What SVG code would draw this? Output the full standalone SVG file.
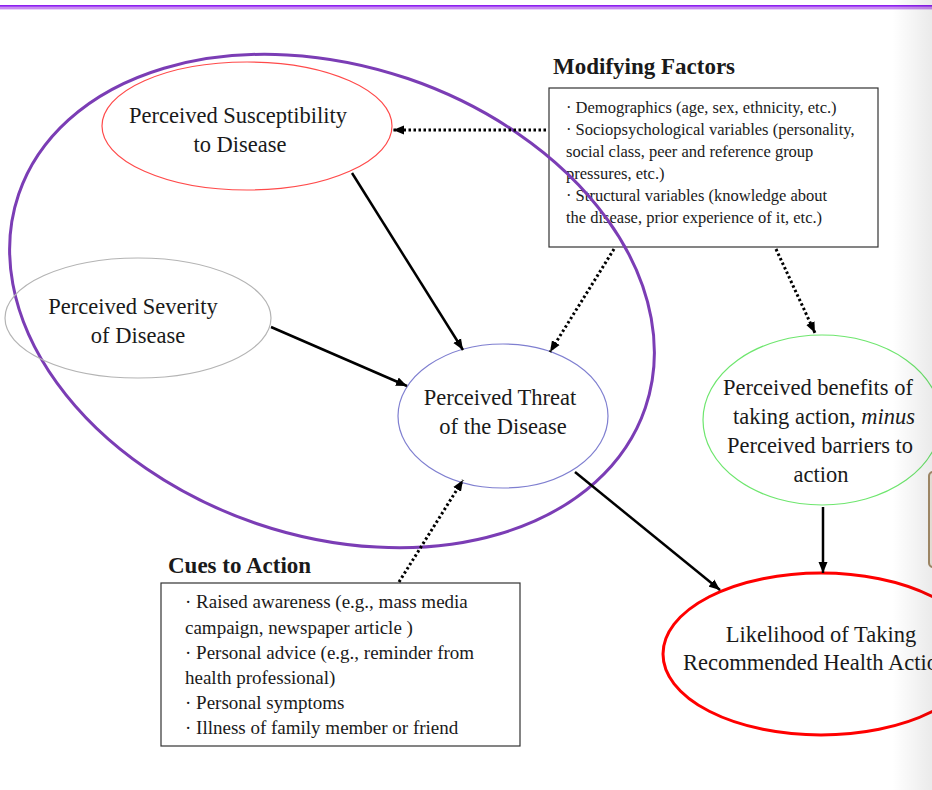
<svg xmlns="http://www.w3.org/2000/svg" width="932" height="790" viewBox="0 0 932 790">
  <style>
    .lbl { font-family: "Liberation Serif", "Times New Roman", serif; fill: #1a1a1a; }
    .node { font-size: 22.5px; }
    .title { font-size: 23px; font-weight: bold; }
    .mf { font-size: 16.5px; }
    .cue { font-size: 19px; }
    .solid { fill: none; stroke: #000; stroke-width: 2.5; }
    .dots { fill: none; stroke: #000; stroke-width: 3; stroke-dasharray: 2.5 2.5; }
    .box { fill: #fff; stroke: #333; stroke-width: 1.2; }
  </style>
  <defs>
    <marker id="head" markerUnits="userSpaceOnUse" markerWidth="12" markerHeight="10" refX="11" refY="5" orient="auto">
      <path d="M0,0.5 L11,5 L0,9.5 z" fill="#000"/>
    </marker>
    <linearGradient id="edgeShade" x1="0" y1="0" x2="1" y2="0">
      <stop offset="0" stop-color="#000" stop-opacity="0"/>
      <stop offset="1" stop-color="#000" stop-opacity="0.08"/>
    </linearGradient>
  </defs>

  <rect width="932" height="790" fill="#fff"/>

  <!-- header rule -->
  <rect x="0" y="5" width="932" height="1.8" fill="#8d1ff0"/>
  <rect x="0" y="7" width="932" height="2.4" fill="#c98cf0"/>

  <g id="modifying-factors">
    <text class="lbl title" x="553" y="74">Modifying Factors</text>
    <rect class="box" x="549" y="88" width="329" height="159"/>
    <text class="lbl mf" x="566" y="113">· Demographics (age, sex, ethnicity, etc.)</text>
    <text class="lbl mf" x="566" y="135">· Sociopsychological variables (personality,</text>
    <text class="lbl mf" x="566" y="157">social class, peer and reference group</text>
    <text class="lbl mf" x="566" y="179">pressures, etc.)</text>
    <text class="lbl mf" x="566" y="201">· Structural variables (knowledge about</text>
    <text class="lbl mf" x="566" y="223">the disease, prior experience of it, etc.)</text>
  </g>

  <g id="cues-to-action">
    <text class="lbl title" x="168" y="573">Cues to Action</text>
    <rect class="box" x="161" y="583" width="359" height="163"/>
    <text class="lbl cue" x="185" y="608">· Raised awareness (e.g., mass media</text>
    <text class="lbl cue" x="185" y="634">campaign, newspaper article )</text>
    <text class="lbl cue" x="185" y="659">· Personal advice (e.g., reminder from</text>
    <text class="lbl cue" x="185" y="684">health professional)</text>
    <text class="lbl cue" x="185" y="709">· Personal symptoms</text>
    <text class="lbl cue" x="185" y="734">· Illness of family member or friend</text>
  </g>

  <!-- grouping ellipse around the threat components, drawn over the factor box -->
  <ellipse id="threat-group" cx="332" cy="301" rx="331" ry="235" transform="rotate(18.8 332 301)" fill="none" stroke="#7b3db5" stroke-width="3"/>

  <g id="susceptibility">
    <ellipse cx="247" cy="126" rx="145" ry="64" fill="none" stroke="#ff4a4a" stroke-width="1.2"/>
    <text class="lbl node" text-anchor="middle" x="238" y="123">Perceived Susceptibility</text>
    <text class="lbl node" text-anchor="middle" x="240" y="152">to Disease</text>
  </g>

  <g id="severity">
    <ellipse cx="138" cy="318" rx="133" ry="60" fill="none" stroke="#b4b4b4" stroke-width="1.2"/>
    <text class="lbl node" text-anchor="middle" x="133" y="314">Perceived Severity</text>
    <text class="lbl node" text-anchor="middle" x="138" y="343">of Disease</text>
  </g>

  <g id="threat">
    <ellipse cx="503" cy="416" rx="105" ry="72" fill="none" stroke="#7f7fd0" stroke-width="1.2"/>
    <text class="lbl node" text-anchor="middle" x="500" y="405">Perceived Threat</text>
    <text class="lbl node" text-anchor="middle" x="503" y="434">of the Disease</text>
  </g>

  <g id="benefits">
    <ellipse cx="822" cy="420" rx="119" ry="85" fill="none" stroke="#6ee66e" stroke-width="1.2"/>
    <text class="lbl node" text-anchor="middle" x="818" y="395">Perceived benefits of</text>
    <text class="lbl node" text-anchor="middle" x="824" y="424">taking action,  <tspan font-style="italic">minus</tspan></text>
    <text class="lbl node" text-anchor="middle" x="820" y="453">Perceived barriers to</text>
    <text class="lbl node" text-anchor="middle" x="821" y="482">action</text>
  </g>

  <g id="likelihood">
    <ellipse cx="821" cy="654" rx="158" ry="81" fill="none" stroke="#ff0000" stroke-width="3"/>
    <text class="lbl node" text-anchor="middle" x="821" y="642">Likelihood of Taking</text>
    <text class="lbl node" x="683" y="670">Recommended Health Action</text>
  </g>

  <g id="connectors">
    <line class="dots" x1="546" y1="130" x2="393" y2="130" marker-end="url(#head)"/>
    <line class="solid" x1="352" y1="173" x2="463" y2="350" marker-end="url(#head)"/>
    <line class="solid" x1="271" y1="327" x2="407" y2="386" marker-end="url(#head)"/>
    <line class="dots" x1="614" y1="249" x2="550" y2="352" marker-end="url(#head)"/>
    <line class="dots" x1="776" y1="249" x2="815" y2="333" marker-end="url(#head)"/>
    <line class="solid" x1="575" y1="472" x2="720" y2="590" marker-end="url(#head)"/>
    <line class="solid" x1="823" y1="507" x2="823" y2="573" marker-end="url(#head)"/>
    <line class="dots" x1="399" y1="582" x2="463" y2="480" marker-end="url(#head)"/>
  </g>

  <!-- right margin: tab edge and page shade -->
  <rect x="929" y="472" width="12" height="95" rx="4" fill="#f4eee4" stroke="#a88f6c" stroke-width="2"/>
  <rect x="892" y="0" width="40" height="790" fill="url(#edgeShade)"/>
</svg>
